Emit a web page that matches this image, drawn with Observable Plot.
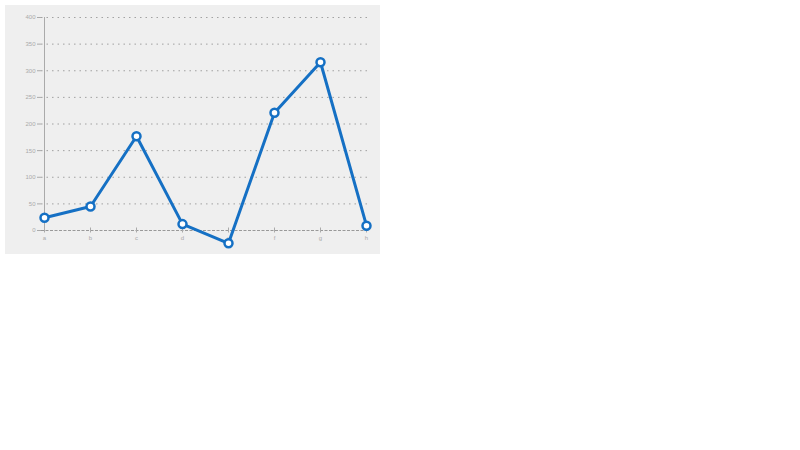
<!DOCTYPE html>
<html><head><meta charset="utf-8">
<script src="https://cdn.jsdelivr.net/npm/d3@7"></script>
<script src="https://cdn.jsdelivr.net/npm/@observablehq/plot@0.6"></script>
<style>
body{margin:0;background:#fff;}
#chart{position:absolute;left:5px;top:5px;}
</style></head><body>
<div id="chart"></div>
<script>
const categories = ["a","b","c","d","e","f","g","h"];
const values = [24, 45, 177, 12, -24, 221, 316, 9];
const yTicks = [0,50,100,150,200,250,300,350,400];

const data = categories.map((c,i)=>({cat:c, v:values[i]}));
const chart = Plot.plot({
  width: 375, height: 249,
  marginLeft: 36, marginRight: 12, marginTop: 12, marginBottom: 24,
  style: {background:"#efefef", fontFamily:"Liberation Sans, Arial, sans-serif", fontSize:"6px", color:"#999", overflow:"visible"},
  x: {type:"point", domain: categories, padding: 0, label: null},
  y: {domain:[0,400], ticks: yTicks, label: null},
  marks: [
    Plot.ruleY(yTicks.filter(t=>t>0), {stroke:"#999", strokeDasharray:"1.5,4", strokeWidth:1, strokeOpacity:0.9}),
    Plot.ruleY([0], {stroke:"#999", strokeDasharray:"3,1.5", strokeWidth:1}),
    Plot.ruleX([categories[0]], {y1:0, y2:400, stroke:"#aaa", strokeWidth:1}),
    Plot.axisY({ticks: yTicks, tickSize:4, tickPadding:2, stroke:"#aaa", fill:"#aaa", label:null}),
    Plot.axisX({tickSize:5, tickPadding:3, stroke:"#aaa", fill:"#aaa", label:null, anchor:"bottom", dy:-2.5}),
    Plot.line(data, {x:"cat", y:"v", stroke:"#1570c4", strokeWidth:3, clip:false}),
    Plot.dot(data, {x:"cat", y:"v", r:4, stroke:"#1570c4", strokeWidth:2.5, fill:"#fff"})
  ]
});
document.getElementById("chart").appendChild(chart);
</script>
</body></html>
